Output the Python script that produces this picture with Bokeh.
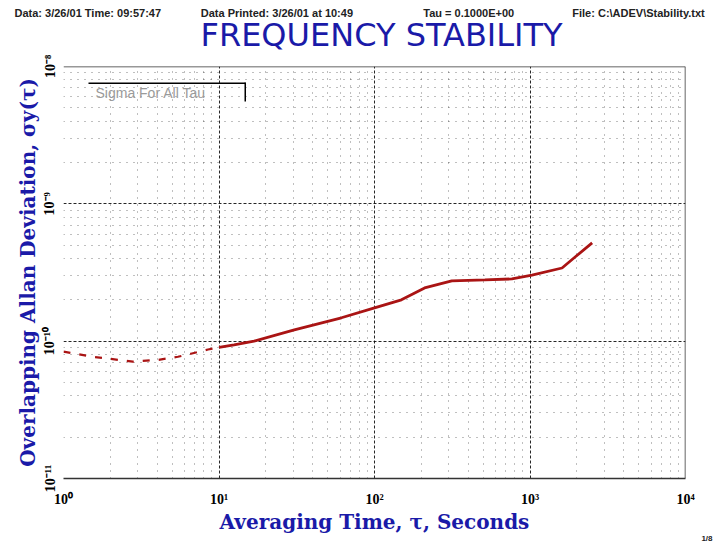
from bokeh.plotting import figure
from bokeh.models import Label, Span, BoxAnnotation, FixedTicker, CustomJSTickFormatter, Title
from bokeh.embed import file_html
from bokeh.resources import INLINE

# ---- data ----
tau_dashed = [1.0, 1.54, 2.79, 4.04, 5.44, 6.6, 8.5, 10.0]
adev_dashed = [8.4e-11, 7.7e-11, 7.1e-11, 7.3e-11, 7.7e-11, 8.1e-11, 8.7e-11, 9.0e-11]
tau_solid = [10.0, 12.5, 16.8, 30.5, 61.3, 100, 149, 210, 314, 513, 765, 1030, 1607, 1950, 2510]
adev_solid = [9.0e-11, 9.4e-11, 1.0e-10, 1.21e-10, 1.48e-10, 1.75e-10, 2.0e-10, 2.44e-10,
              2.75e-10, 2.79e-10, 2.84e-10, 3.03e-10, 3.41e-10, 4.1e-10, 5.19e-10]

x_major = [1, 10, 100, 1000, 10000]
y_major = [1e-11, 1e-10, 1e-9, 1e-8]

title_text = "FREQUENCY STABILITY"
x_label = "Averaging Time, \u03c4, Seconds"
y_label = "Overlapping Allan Deviation, \u03c3y(\u03c4)"
header_texts = ["Data: 3/26/01  Time: 09:57:47", "Data Printed: 3/26/01 at 10:49",
                "Tau = 0.1000E+00", "File: C:\\ADEV\\Stability.txt"]
header_gaps = [13, 23, 19]
legend_text = "Sigma For All Tau"
page_text = "1/8"

BLUE = "#1a1aa8"
RED = "#aa1414"

p = figure(width=714, height=541, x_axis_type="log", y_axis_type="log",
           x_range=(1, 1e4), y_range=(1e-11, 1e-8), title=None,
           output_backend="svg", toolbar_location=None,
           min_border_left=63, min_border_right=29, min_border_top=66, min_border_bottom=61)
p.outline_line_color = None
p.background_fill_color = "white"
p.border_fill_color = "white"

x_minor = [k * 10 ** d for d in range(0, 4) for k in range(2, 10)]
y_minor = [k * 10.0 ** d for d in range(-11, -8) for k in range(2, 10)]
p.xaxis.ticker = FixedTicker(ticks=x_major, minor_ticks=x_minor)
p.yaxis.ticker = FixedTicker(ticks=y_major, minor_ticks=y_minor)

fmt_code = """
const e = Math.round(Math.log10(tick));
const m = {'-':'\u207b','0':'\u2070','1':'\u00b9','2':'\u00b2','3':'\u00b3','4':'\u2074',
           '5':'\u2075','6':'\u2076','7':'\u2077','8':'\u2078','9':'\u2079'};
return '10' + String(e).split('').map(c => m[c]).join('');
"""
for ax in (p.xaxis[0], p.yaxis[0]):
    ax.formatter = CustomJSTickFormatter(code=fmt_code)
    ax.major_tick_line_color = None
    ax.minor_tick_line_color = None
    ax.major_label_text_font = "Liberation Serif"
    ax.major_label_text_font_style = "bold"
    ax.major_label_text_font_size = "14px"
    ax.major_label_text_color = "black"
    ax.axis_label_text_font = "DejaVu Serif"
    ax.axis_label_text_font_style = "bold"
    ax.axis_label_text_font_size = "20px"
    ax.axis_label_text_color = BLUE

p.xaxis.axis_line_color = "#333333"
p.xaxis.axis_line_width = 1.5
p.xaxis.major_label_standoff = 7
p.xaxis.axis_label = x_label
p.xaxis.axis_label_standoff = 0

p.yaxis.axis_line_color = None
p.yaxis.major_label_orientation = "vertical"
p.yaxis.major_label_standoff = 0
p.yaxis.axis_label = y_label
p.yaxis.axis_label_standoff = 0

for g in (p.xgrid[0], p.ygrid[0]):
    g.grid_line_color = "black"
    g.grid_line_dash = "3 2"
    g.grid_line_alpha = 0.85
    g.minor_grid_line_color = "black"
    g.minor_grid_line_dash = "1 6"
    g.minor_grid_line_alpha = 0.5

p.add_layout(Span(location=1e-8, dimension="width", line_color="#333333", line_width=1.5))
p.add_layout(Span(location=1e4, dimension="height", line_color="#333333", line_width=1.5))

p.line(tau_dashed, adev_dashed, line_color=RED, line_width=2.2, line_dash="7 9")
p.line(tau_solid, adev_solid, line_color=RED, line_width=2.8)

# title rows (first added = nearest to the frame)
p.add_layout(Title(text=title_text, align="left", offset=137, standoff=25,
                   text_font="DejaVu Sans", text_font_size="32px",
                   text_font_style="normal", text_color=BLUE), "above")
header = ""
for i, t in enumerate(header_texts):
    header += t
    if i < len(header_gaps):
        header += "\u00a0" * header_gaps[i]
p.add_layout(Title(text=header, align="left", offset=-49, standoff=-34,
                   text_font="Liberation Sans", text_font_size="11px",
                   text_font_style="bold", text_color="#222222"), "above")
p.add_layout(Title(text=page_text, align="right", offset=-27, standoff=-6,
                   vertical_align="top",
                   text_font="Liberation Sans", text_font_size="8px",
                   text_font_style="bold", text_color="#222222"), "below")

# legend box (top and right borders only)
p.add_layout(BoxAnnotation(left=25, right=182, top=396, bottom=394.5,
                           left_units="screen", right_units="screen",
                           top_units="screen", bottom_units="screen",
                           fill_color="black", fill_alpha=1, line_color=None))
p.add_layout(BoxAnnotation(left=181, right=182.5, top=396, bottom=377,
                           left_units="screen", right_units="screen",
                           top_units="screen", bottom_units="screen",
                           fill_color="black", fill_alpha=1, line_color=None))
p.add_layout(Label(x=32, y=386, x_units="screen", y_units="screen", text=legend_text,
                   text_font="Liberation Sans", text_font_size="14px", text_color="#9a9a9a",
                   text_baseline="middle"))

open("out.html", "w").write(file_html(p, INLINE))
